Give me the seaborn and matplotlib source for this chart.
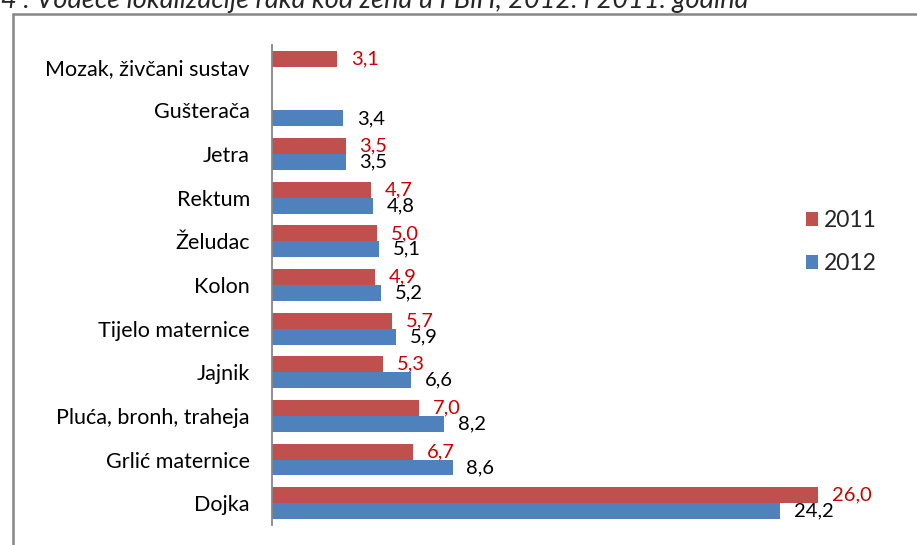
import matplotlib
matplotlib.use("Agg")
import matplotlib.pyplot as plt
from matplotlib.lines import Line2D
import seaborn as sns
import pandas as pd
import numpy as np

categories = ["Mozak, živčani sustav", "Gušterača", "Jetra", "Rektum", "Želudac", "Kolon",
              "Tijelo maternice", "Jajnik", "Pluća, bronh, traheja", "Grlić maternice", "Dojka"]
values_2011 = [3.1, np.nan, 3.5, 4.7, 5.0, 4.9, 5.7, 5.3, 7.0, 6.7, 26.0]
values_2012 = [np.nan, 3.4, 3.5, 4.8, 5.1, 5.2, 5.9, 6.6, 8.2, 8.6, 24.2]
years = ["2011", "2012"]
title = "4 : Vodeće lokalizacije raka kod žena u FBiH, 2012. i 2011. godina"

df = pd.DataFrame({
    "kategorija": categories * 2,
    "vrijednost": values_2011 + values_2012,
    "godina": [years[0]] * len(categories) + [years[1]] * len(categories),
})

sns.set_theme(style="white")
plt.rcParams["font.family"] = ["Lato", "DejaVu Sans"]

W, H = 917, 545
fig = plt.figure(figsize=(W / 100, H / 100), dpi=100)
ax = fig.add_axes([272 / W, 1 - 525 / H, (902 - 272) / W, (525 - 45) / H])

palette = {"2011": "#C0504D", "2012": "#4F81BD"}
sns.barplot(data=df, x="vrijednost", y="kategorija", hue="godina", hue_order=years,
            order=categories, palette=palette, orient="h", width=0.73, ax=ax,
            edgecolor="none", linewidth=0, saturation=1, legend=True)

ax.set_xlim(0, 30)
ax.set_ylim(10.5, -0.5)
ax.set_xlabel("")
ax.set_ylabel("")
ax.set_xticks([])
for s in ["top", "right", "bottom"]:
    ax.spines[s].set_visible(False)
ax.spines["left"].set_color("#868686")
ax.spines["left"].set_linewidth(1.3)
ax.tick_params(axis="y", length=0, pad=16, labelsize=15.5, labelcolor="#000000")

label_colors = {"2011": "#CC0000", "2012": "#000000"}
for cont, yr in zip(ax.containers, years):
    labels = [("" if np.isnan(v) else f"{v:.1f}".replace(".", ",")) for v in cont.datavalues]
    ax.bar_label(cont, labels=labels, padding=10, fontsize=14.5, color=label_colors[yr])

leg = ax.legend(loc="center left", bbox_to_anchor=(785 / W, 1 - 242 / H),
                bbox_transform=fig.transFigure, frameon=False, fontsize=16.5,
                handlelength=0.55, handleheight=0.55, handletextpad=0.25, labelspacing=0.95)

# outer chart frame (cut at right/bottom)
fig.add_artist(Line2D([13 / W, 13 / W], [0, 1 - 14 / H], color="#868686", lw=1.8,
                      transform=fig.transFigure))
fig.add_artist(Line2D([13 / W, 1.0], [1 - 14 / H, 1 - 14 / H], color="#868686", lw=1.8,
                      transform=fig.transFigure))

fig.text(1 / W, 1 - 8 / H, title, fontsize=19.5, style="italic", va="baseline", ha="left")

fig.savefig("out.png", dpi=100)
